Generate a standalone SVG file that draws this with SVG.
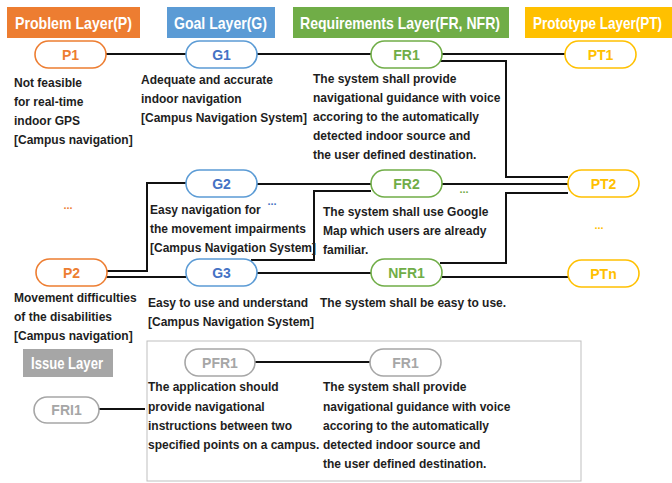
<svg xmlns="http://www.w3.org/2000/svg" width="672" height="483" viewBox="0 0 672 483">
  <style>
    .hdr { font-family: "Liberation Sans", Arial, sans-serif; font-weight: bold; font-size: 17px; fill: #ffffff; }
    .lbl { font-family: "Liberation Sans", Arial, sans-serif; font-weight: bold; font-size: 14px; text-anchor: middle; }
    .txt { font-family: "Liberation Sans", Arial, sans-serif; font-weight: bold; font-size: 12px; fill: #1e1e1e; }
    .dots { font-family: "Liberation Sans", Arial, sans-serif; font-weight: bold; font-size: 11px; text-anchor: middle; }
    .pill { fill: #ffffff; stroke-width: 1.6; }
    .p { stroke: #ED7D31; } .pt { fill: #ED7D31; }
    .g { stroke: #5B9BD5; } .gt { fill: #4472C4; }
    .r { stroke: #70AD47; } .rt { fill: #70AD47; }
    .y { stroke: #FFC000; } .yt { fill: #FFC000; }
    .i { stroke: #A6A6A6; } .it { fill: #A6A6A6; }
    .wire { fill: none; stroke: #111111; stroke-width: 2; }
  </style>

  <!-- layer headers -->
  <g id="headers">
    <rect x="7" y="7" width="133" height="31" fill="#ED7D31"/>
    <text class="hdr" x="15" y="28.5" textLength="117" lengthAdjust="spacingAndGlyphs">Problem Layer(P)</text>
    <rect x="167" y="7" width="108" height="31" fill="#5B9BD5"/>
    <text class="hdr" x="174" y="28.5" textLength="93" lengthAdjust="spacingAndGlyphs">Goal Layer(G)</text>
    <rect x="293" y="7" width="216" height="31" fill="#70AD47"/>
    <text class="hdr" x="300" y="28.5" textLength="200" lengthAdjust="spacingAndGlyphs">Requirements Layer(FR, NFR)</text>
    <rect x="525" y="7" width="147" height="31" fill="#FFC000"/>
    <text class="hdr" x="533" y="28.5" textLength="129" lengthAdjust="spacingAndGlyphs">Prototype Layer(PT)</text>
    <rect x="23" y="349" width="90" height="28" fill="#A6A6A6"/>
    <text class="hdr" x="31" y="369" textLength="72" lengthAdjust="spacingAndGlyphs">Issue Layer</text>
  </g>

  <!-- issue frame -->
  <rect id="issue-frame" x="147" y="341" width="434" height="140" fill="none" stroke="#BFBFBF" stroke-width="1"/>

  <!-- connectors -->
  <g id="connectors">
    <path class="wire" d="M106 54H186"/>
    <path class="wire" d="M257 54H371"/>
    <path class="wire" d="M442 54H565"/>
    <path class="wire" d="M440 61H506V177H568"/>
    <path class="wire" d="M106 271H147V183H186"/>
    <path class="wire" d="M106 277H186"/>
    <path class="wire" d="M257 184H371"/>
    <path class="wire" d="M251 260H314V191H371"/>
    <path class="wire" d="M257 273H371"/>
    <path class="wire" d="M442 184H568"/>
    <path class="wire" d="M440 263H506V193H568"/>
    <path class="wire" d="M442 277H568"/>
    <path class="wire" d="M255 362H370"/>
    <path class="wire" d="M99 409H145"/>
  </g>

  <!-- problem layer -->
  <g id="P1">
    <rect class="pill p" x="35" y="41" width="71" height="27" rx="13.5"/>
    <text class="lbl pt" x="70.5" y="59.5">P1</text>
    <text class="txt" x="14" y="87">Not feasible</text>
    <text class="txt" x="14" y="106">for real-time</text>
    <text class="txt" x="14" y="125">indoor GPS</text>
    <text class="txt" x="14" y="144">[Campus navigation]</text>
  </g>
  <g id="P-more"><text class="dots pt" x="68" y="209">...</text></g>
  <g id="P2">
    <rect class="pill p" x="36" y="259" width="71" height="27" rx="13.5"/>
    <text class="lbl pt" x="71.5" y="277.5">P2</text>
    <text class="txt" x="14" y="302">Movement difficulties</text>
    <text class="txt" x="14" y="321">of the disabilities</text>
    <text class="txt" x="14" y="340">[Campus navigation]</text>
  </g>

  <!-- goal layer -->
  <g id="G1">
    <rect class="pill g" x="186" y="41" width="71" height="27" rx="13.5"/>
    <text class="lbl gt" x="221.5" y="59.5">G1</text>
    <text class="txt" x="141" y="84">Adequate and accurate</text>
    <text class="txt" x="141" y="103">indoor navigation</text>
    <text class="txt" x="141" y="122">[Campus Navigation System]</text>
  </g>
  <g id="G2">
    <rect class="pill g" x="186" y="170" width="71" height="27" rx="13.5"/>
    <text class="lbl gt" x="221.5" y="188.5">G2</text>
    <text class="txt" x="150" y="214">Easy navigation for</text>
    <text class="txt" x="150" y="233">the movement impairments</text>
    <text class="txt" x="150" y="252">[Campus Navigation System]</text>
  </g>
  <g id="G-more"><text class="dots gt" x="272" y="205">...</text></g>
  <g id="G3">
    <rect class="pill g" x="186" y="259" width="71" height="27" rx="13.5"/>
    <text class="lbl gt" x="221.5" y="277.5">G3</text>
    <text class="txt" x="148" y="307">Easy to use and understand</text>
    <text class="txt" x="148" y="326">[Campus Navigation System]</text>
  </g>

  <!-- requirements layer -->
  <g id="FR1">
    <rect class="pill r" x="371" y="41" width="71" height="27" rx="13.5"/>
    <text class="lbl rt" x="406.5" y="59.5">FR1</text>
    <text class="txt" x="313" y="83">The system shall provide</text>
    <text class="txt" x="313" y="102">navigational guidance with voice</text>
    <text class="txt" x="313" y="121">accoring to the automatically</text>
    <text class="txt" x="313" y="140">detected indoor source and</text>
    <text class="txt" x="313" y="159">the user defined destination.</text>
  </g>
  <g id="FR2">
    <rect class="pill r" x="371" y="170" width="71" height="27" rx="13.5"/>
    <text class="lbl rt" x="406.5" y="188.5">FR2</text>
    <text class="txt" x="323" y="216">The system shall use Google</text>
    <text class="txt" x="323" y="235">Map which users are already</text>
    <text class="txt" x="323" y="254">familiar.</text>
  </g>
  <g id="FR-more"><text class="dots rt" x="464" y="193">...</text></g>
  <g id="NFR1">
    <rect class="pill r" x="371" y="259" width="71" height="27" rx="13.5"/>
    <text class="lbl rt" x="406.5" y="277.5">NFR1</text>
    <text class="txt" x="320" y="307">The system shall be easy to use.</text>
  </g>

  <!-- prototype layer -->
  <g id="PT1">
    <rect class="pill y" x="565" y="41" width="71" height="27" rx="13.5"/>
    <text class="lbl yt" x="600.5" y="59.5">PT1</text>
  </g>
  <g id="PT2">
    <rect class="pill y" x="568" y="170" width="71" height="27" rx="13.5"/>
    <text class="lbl yt" x="603.5" y="188.5">PT2</text>
  </g>
  <g id="PT-more"><text class="dots yt" x="599" y="229">...</text></g>
  <g id="PTn">
    <rect class="pill y" x="568" y="260" width="71" height="27" rx="13.5"/>
    <text class="lbl yt" x="603.5" y="278.5">PTn</text>
  </g>

  <!-- issue layer -->
  <g id="PFR1">
    <rect class="pill i" x="185" y="349" width="70" height="27" rx="13.5"/>
    <text class="lbl it" x="220" y="367.5">PFR1</text>
    <text class="txt" x="148" y="391">The application should</text>
    <text class="txt" x="148" y="411">provide navigational</text>
    <text class="txt" x="148" y="430">instructions between two</text>
    <text class="txt" x="148" y="449">specified points on a campus.</text>
  </g>
  <g id="FR1-issue">
    <rect class="pill i" x="370" y="349" width="71" height="27" rx="13.5"/>
    <text class="lbl it" x="405.5" y="367.5">FR1</text>
    <text class="txt" x="323" y="391">The system shall provide</text>
    <text class="txt" x="323" y="411">navigational guidance with voice</text>
    <text class="txt" x="323" y="430">accoring to the automatically</text>
    <text class="txt" x="323" y="449">detected indoor source and</text>
    <text class="txt" x="323" y="468">the user defined destination.</text>
  </g>
  <g id="FRI1">
    <rect class="pill i" x="34" y="397" width="65" height="26" rx="13"/>
    <text class="lbl it" x="66.5" y="415">FRI1</text>
  </g>
</svg>
